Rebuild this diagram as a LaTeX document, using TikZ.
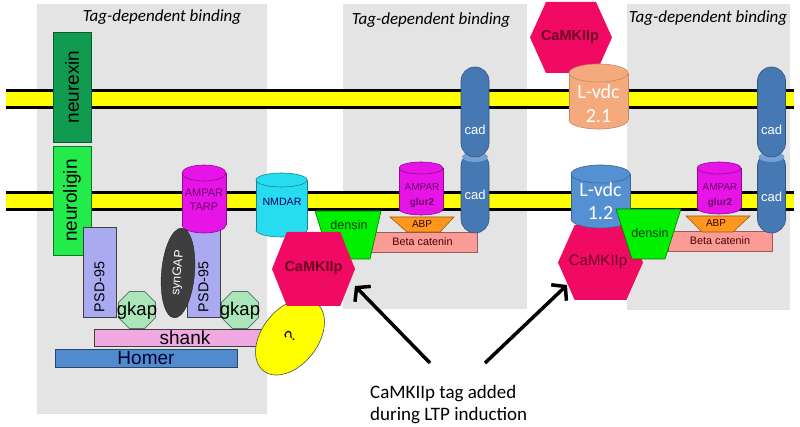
\documentclass[tikz,border=0pt]{standalone}
\usepackage{fontspec}
\setmainfont{Liberation Sans}
\newfontfamily\calib{Carlito}
\usetikzlibrary{shapes.geometric,arrows.meta}

\definecolor{bggray}{RGB}{228,228,228}
\definecolor{memyel}{RGB}{255,255,0}
\definecolor{nrx}{RGB}{16,155,80}
\definecolor{nlg}{RGB}{35,235,75}
\definecolor{psd}{RGB}{170,170,240}
\definecolor{syn}{RGB}{62,62,62}
\definecolor{gkapc}{RGB}{170,230,185}
\definecolor{shankc}{RGB}{240,170,225}
\definecolor{homerc}{RGB}{80,140,205}
\definecolor{ampa}{RGB}{230,20,230}
\definecolor{ampatxt}{RGB}{110,0,110}
\definecolor{nmda}{RGB}{40,220,240}
\definecolor{camk}{RGB}{240,10,100}
\definecolor{camktxt}{RGB}{110,0,35}
\definecolor{dens}{RGB}{0,240,0}
\definecolor{abp}{RGB}{255,150,30}
\definecolor{beta}{RGB}{250,155,150}
\definecolor{cad}{RGB}{70,120,180}
\definecolor{cadl}{RGB}{120,160,210}
\definecolor{lvdcA}{RGB}{245,170,125}
\definecolor{lvdcB}{RGB}{85,145,210}

% cylinder: x centre, x radius, top y, bottom y, y radius, fill, line
\newcommand\cylin[7]{%
  \filldraw[fill=#6,draw=#7,line width=0.6pt] (#1,#4) ellipse[x radius=#2pt,y radius=#5pt];
  \fill[#6] (#1-#2,#3) rectangle (#1+#2,#4);
  \draw[#7,line width=0.6pt] (#1-#2,#3)--(#1-#2,#4) (#1+#2,#3)--(#1+#2,#4);
  \filldraw[fill=#6,draw=#7,line width=0.6pt] (#1,#3) ellipse[x radius=#2pt,y radius=#5pt];}
% hexagon: x centre, y centre, half width, half top edge, half height
\newcommand\hexag[5]{%
  \fill[camk] (#1-#3,#2)--(#1-#4,#2-#5)--(#1+#4,#2-#5)--(#1+#3,#2)--(#1+#4,#2+#5)--(#1-#4,#2+#5)--cycle;}

\begin{document}
\begin{tikzpicture}[x=1pt,y=-1pt,
  box/.style={rectangle,draw=black!75,line width=0.6pt,inner sep=0pt},
  vert/.style={rotate=90,inner sep=0pt},
  camktext/.style={text=camktxt,font=\fontsize{15}{17}\selectfont},
  octa/.style={regular polygon,regular polygon sides=8,fill=gkapc,draw=gkapc!50!black,line width=0.6pt,inner sep=0pt,minimum size=40pt},
  cadcap/.style={rectangle,rounded corners=14pt,fill=cad,draw=cad!70!black,line width=0.6pt,minimum width=28pt,inner sep=0pt},
  cadtxt/.style={text=white,font=\fontsize{13}{14}\selectfont},
  tag/.style={font=\calib\itshape\fontsize{17}{20}\selectfont},
  tagarrow/.style={line width=3.5pt,-{Straight Barb[length=9pt,width=22pt]}}]
\useasboundingbox (0,0) rectangle (800,427);
\fill[white] (0,0) rectangle (800,427);
\fill[bggray] (37,4) rectangle (267,414);
\fill[bggray] (343,4) rectangle (527,309);
\fill[bggray] (627,4) rectangle (790,310);
\node (tag1) at (162,17)[tag]{Tag-dependent binding};
\node (tag2) at (431,20)[tag]{Tag-dependent binding};
\node (tag3) at (708,18)[tag]{Tag-dependent binding};

\foreach \m in {89,191}{
  \fill[memyel] (6,\m) rectangle (794,\m+20);
  \draw[line width=3pt] (6,\m+1.5)--(794,\m+1.5) (6,\m+18.5)--(794,\m+18.5);
}

\node (nrx) at (72,87)[box,fill=nrx,draw=nrx!60!black,rotate=90,minimum width=110pt,minimum height=38pt,font=\fontsize{19}{20}\selectfont]{neurexin};
\node (nlg) at (72,200.5)[box,fill=nlg,draw=nlg!50!black,rotate=90,minimum width=109pt,minimum height=38pt,font=\fontsize{19}{20}\selectfont]{neuroligin};

\node (psdL) at (99.5,272)[box,fill=psd,minimum width=33pt,minimum height=90pt]{};
\node (psdLt) at (99.5,287)[vert,font=\fontsize{14.3}{16}\selectfont]{PSD-95};
\node (psdR) at (203.5,270)[box,fill=psd,minimum width=33pt,minimum height=94pt]{};
\node (psdRt) at (203.5,287)[vert,font=\fontsize{14.3}{16}\selectfont]{PSD-95};

\cylin{204}{22}{173}{225}{8}{ampa}{ampa!60!black}
\node (tarp) at (204,200)[align=center,text=ampatxt,font=\fontsize{11}{14}\selectfont]{AMPAR\\TARP};

\node (syn) at (178,273)[ellipse,fill=syn,draw=syn!60!black,rotate=85,minimum width=90pt,minimum height=33pt,inner sep=0pt,text=white,font=\fontsize{12.3}{14}\selectfont]{synGAP};

\node (gkL) at (137,310)[octa]{};
\node (gkR) at (240,310)[octa]{};
\node (gkLt) at (137,311)[font=\fontsize{18.5}{20}\selectfont]{gkap};
\node (gkRt) at (240,311)[font=\fontsize{18.5}{20}\selectfont]{gkap};

\node (shank) at (185,337.5)[box,fill=shankc,minimum width=182pt,minimum height=17pt,font=\fontsize{19}{20}\selectfont]{shank};
\node (homer) at (146,358)[box,fill=homerc,draw=homerc!50!black,minimum width=182pt,minimum height=18pt,text=black!80!blue,font=\fontsize{19}{20}\selectfont]{Homer};
\node (unk) at (290,337)[ellipse,fill=memyel,draw=black!70,line width=0.6pt,rotate=52,minimum width=86pt,minimum height=56pt,inner sep=0pt,font=\fontsize{16}{18}\selectfont]{?};

\cylin{281.5}{25.5}{180}{230}{7}{nmda}{nmda!60!black}
\node (nmda) at (282,202)[text=blue!40!black,font=\fontsize{10.6}{12}\selectfont]{NMDAR};

\node (betaL) at (422.5,242)[box,fill=beta,draw=beta!60!black,minimum width=109pt,minimum height=20pt,text=red!30!black,font=\fontsize{10.8}{12}\selectfont]{Beta catenin};
\filldraw[fill=dens,draw=dens!50!black,line width=0.6pt] (315,211)--(381,211)--(370,259)--(330,259)--cycle;
\node (densL) at (349,225)[text=green!25!black,font=\fontsize{12.6}{14}\selectfont]{densin};
\hexag{313.5}{269}{41.5}{26.7}{37}
\node (camkL) at (313.5,268)[camktext,font=\bfseries\fontsize{14.5}{16}\selectfont]{CaMKIIp};

\filldraw[fill=abp,draw=abp!60!black,line width=0.6pt] (390,217)--(454,217)--(440,232)--(407,232)--cycle;
\node (abpL) at (422,224)[text=red!20!black,font=\fontsize{10}{12}\selectfont]{ABP};
\cylin{421}{22}{168}{209}{6}{ampa}{ampa!60!black}
\node (ampL) at (422,196)[align=center,text=ampatxt,font=\fontsize{10}{15}\selectfont]{AMPAR\\\textbf{glur2}};

\node (cadL2) at (475,192.5)[cadcap,minimum height=81pt]{};
\fill[cadl] (475,157) ellipse[x radius=13pt,y radius=5pt];
\node (cadL1) at (475,112)[cadcap,minimum height=90pt]{};
\node (cadL1t) at (475,130)[cadtxt]{cad};
\node (cadL2t) at (475,195)[cadtxt]{cad};

\hexag{571}{37.5}{41}{25}{35.5}
\node (camkT) at (570,37)[camktext,font=\bfseries\fontsize{14.5}{16}\selectfont]{CaMKIIp};
\cylin{598.5}{29.5}{73}{120}{9}{lvdcA}{lvdcA!80!black}
\node (lvdc21) at (598.5,104)[align=center,text=white,font=\calib\fontsize{20}{24}\selectfont]{L-vdc\\2.1};

\hexag{600.5}{262.5}{42.5}{25.8}{37.5}
\node (camkR) at (598,262)[camktext]{CaMKIIp};
\cylin{600.5}{29.5}{174}{219}{9}{lvdcB}{lvdcB!70!black}
\node (lvdc12) at (600.5,201.5)[align=center,text=white,font=\calib\fontsize{20}{23}\selectfont]{L-vdc\\1.2};

\node (betaR) at (720,241)[box,fill=beta,draw=beta!60!black,minimum width=104pt,minimum height=20pt,text=red!30!black,font=\fontsize{10.8}{12}\selectfont]{Beta catenin};
\filldraw[fill=dens,draw=dens!50!black,line width=0.6pt] (616,209)--(681,209)--(665,259)--(632,259)--cycle;
\node (densR) at (650,233)[text=green!25!black,font=\fontsize{12.6}{14}\selectfont]{densin};
\filldraw[fill=abp,draw=abp!60!black,line width=0.6pt] (686,216)--(750,216)--(733,232)--(702,232)--cycle;
\node (abpR) at (716,223)[text=red!20!black,font=\fontsize{10}{12}\selectfont]{ABP};
\cylin{719}{22}{168}{208}{6}{ampa}{ampa!60!black}
\node (ampR) at (720,196)[align=center,text=ampatxt,font=\fontsize{10}{15}\selectfont]{AMPAR\\\textbf{glur2}};

\node (cadR2) at (771.5,192.5)[cadcap,minimum height=81pt]{};
\fill[cadl] (771.5,157) ellipse[x radius=13pt,y radius=5pt];
\node (cadR1) at (771.5,112)[cadcap,minimum height=90pt]{};
\node (cadR1t) at (771.5,130)[cadtxt]{cad};
\node (cadR2t) at (771.5,197)[cadtxt]{cad};

\node (caption) at (370,385)[anchor=north west,align=left,inner sep=0pt,font=\calib\fontsize{19}{22}\selectfont]{CaMKIIp tag added\\during LTP induction};
\coordinate (tailL) at (430,363);
\coordinate (headL) at (355,286);
\coordinate (tailR) at (485,363);
\coordinate (headR) at (567,285);
\draw[tagarrow] (tailL)--(headL);
\draw[tagarrow] (tailR)--(headR);
\end{tikzpicture}
\end{document}
